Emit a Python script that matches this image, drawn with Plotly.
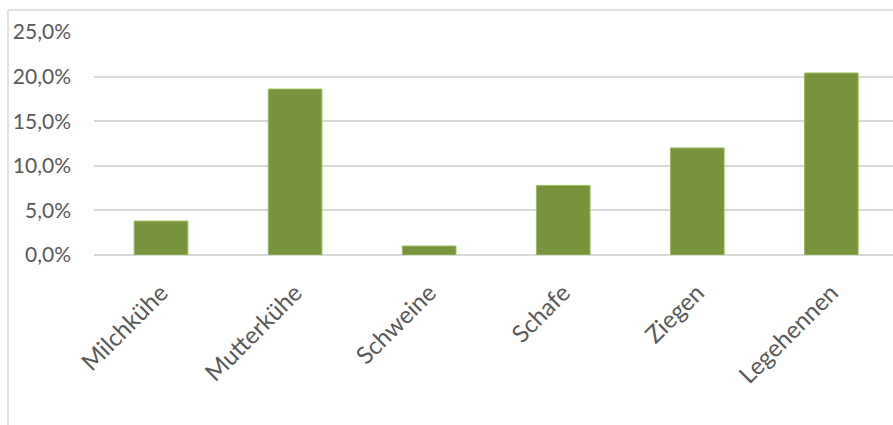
import plotly.graph_objects as go

categories = ["Milchkühe", "Mutterkühe", "Schweine", "Schafe", "Ziegen", "Legehennen"]
values = [3.8, 18.6, 1.0, 7.8, 12.0, 20.4]
y_ticks = [0, 5, 10, 15, 20, 25]
y_labels = ["0,0%", "5,0%", "10,0%", "15,0%", "20,0%", "25,0%"]

W, H = 893, 425
ml, mr, mt, mb = 94, 0, 32, 170

fig = go.Figure(go.Bar(
    x=categories, y=values,
    marker=dict(color="#77933c", line=dict(color="#9bbb59", width=1)),
    width=0.4,
))

fig.update_layout(
    width=W, height=H,
    margin=dict(l=ml, r=mr, t=mt, b=mb, pad=0),
    paper_bgcolor="white", plot_bgcolor="white",
    font=dict(family="Lato", color="#595959"),
    showlegend=False,
    bargap=0.6,
)
fig.update_xaxes(
    range=[-0.5, 5.46], tickangle=-45, tickfont=dict(size=24),
    showgrid=False, showline=False, ticks="", zeroline=False,
    ticklabelstandoff=18,
)
fig.update_yaxes(
    range=[0, 25], tickvals=y_ticks, ticktext=y_labels,
    tickfont=dict(size=21), showgrid=True, gridcolor="#d9d9d9", gridwidth=1.5,
    zeroline=True, zerolinecolor="#d9d9d9", zerolinewidth=1.5,
    showline=False, ticks="", ticklabelstandoff=22,
)

pw = W - ml - mr
ph = H - mt - mb
def px(x):
    return (x - ml) / pw
def py(y):
    return (H - mb - y) / ph

fig.add_shape(type="line", xref="paper", yref="paper",
              x0=px(8), x1=px(893), y0=py(10), y1=py(10),
              line=dict(color="#d9d9d9", width=1.5))
fig.add_shape(type="line", xref="paper", yref="paper",
              x0=px(8), x1=px(8), y0=py(10), y1=py(425),
              line=dict(color="#d9d9d9", width=1.5))

fig.write_html("out.html")
